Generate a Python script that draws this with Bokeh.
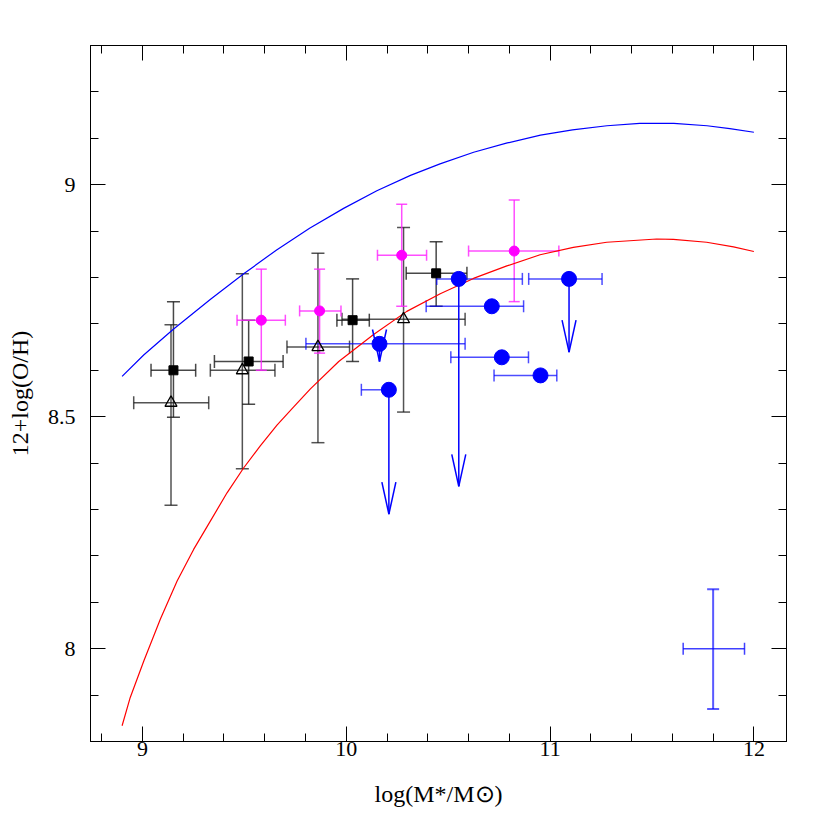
from bokeh.plotting import figure
from bokeh.models import Whisker, TeeHead, ColumnDataSource, LinearAxis, FixedTicker, Range1d
from bokeh.embed import file_html
from bokeh.resources import INLINE

# ---------------- data ----------------
x_ticks = [9, 10, 11, 12]
x_tick_labels = ["9", "10", "11", "12"]
x_minor = [8.8, 9.2, 9.4, 9.6, 9.8, 10.2, 10.4, 10.6, 10.8, 11.2, 11.4, 11.6, 11.8, 12.2]
y_ticks = [8.0, 8.5, 9.0]
y_tick_labels = ["8", "8.5", "9"]
y_minor = [7.8, 7.9, 8.1, 8.2, 8.3, 8.4, 8.6, 8.7, 8.8, 8.9, 9.1, 9.2, 9.3]

# upper (blue) relation
blue_curve_x = [8.90, 9.006, 9.15, 9.334, 9.50, 9.66, 9.82, 9.987, 10.15, 10.315, 10.46,
                10.625, 10.79, 10.953, 11.11, 11.279, 11.44, 11.607, 11.77, 11.882, 12.00]
blue_curve_y = [8.587, 8.633, 8.688, 8.753, 8.809, 8.860, 8.906, 8.949, 8.987, 9.020, 9.045,
                9.070, 9.090, 9.107, 9.118, 9.127, 9.132, 9.132, 9.127, 9.121, 9.113]

# lower (red) relation
red_curve_x = [8.90, 8.94, 9.007, 9.088, 9.17, 9.251, 9.333, 9.415, 9.497, 9.578, 9.66,
               9.742, 9.824, 9.963, 10.134, 10.297, 10.461, 10.624, 10.788, 10.951, 11.114,
               11.278, 11.523, 11.605, 11.768, 11.90, 12.00]
red_curve_y = [7.834, 7.895, 7.974, 8.064, 8.146, 8.214, 8.275, 8.336, 8.390, 8.437, 8.482,
               8.521, 8.560, 8.619, 8.677, 8.727, 8.765, 8.798, 8.825, 8.849, 8.865,
               8.876, 8.883, 8.882, 8.876, 8.866, 8.856]

# black filled squares
sq_x = [9.152, 9.521, 10.031, 10.441]
sq_y = [8.600, 8.619, 8.708, 8.809]
sq_xlo = [9.042, 9.353, 9.954, 10.294]
sq_xhi = [9.261, 9.690, 10.113, 10.592]
sq_ylo = [8.499, 8.527, 8.619, 8.738]
sq_yhi = [8.748, 8.708, 8.797, 8.877]

# open triangles
tr_x = [9.140, 9.490, 9.861, 10.281]
tr_y = [8.530, 8.600, 8.650, 8.710]
tr_xlo = [8.957, 9.333, 9.709, 9.979]
tr_xhi = [9.325, 9.650, 10.016, 10.583]
tr_ylo = [8.309, 8.388, 8.444, 8.510]
tr_yhi = [8.698, 8.808, 8.852, 8.908]

# magenta circles
mg_x = [9.583, 9.869, 10.272, 10.824]
mg_y = [8.708, 8.728, 8.848, 8.857]
mg_xlo = [9.464, 9.771, 10.153, 10.600]
mg_xhi = [9.701, 9.974, 10.394, 11.043]
mg_ylo = [8.600, 8.637, 8.738, 8.748]
mg_yhi = [8.818, 8.818, 8.958, 8.967]

# blue big circles
bl_x = [10.163, 10.209, 10.552, 10.714, 10.763, 10.953, 11.093]
bl_y = [8.657, 8.558, 8.797, 8.738, 8.628, 8.589, 8.797]
bl_xlo = [9.802, 10.074, 10.444, 10.392, 10.513, 10.725, 10.895]
bl_xhi = [10.583, 10.209, 10.864, 10.870, 10.894, 11.033, 11.255]

# upper limits (arrows) on blue points
lim_x = [10.163, 10.209, 10.552, 11.093]
lim_y = [8.657, 8.558, 8.797, 8.797]
lim_tip = [8.619, 8.290, 8.350, 8.639]

# typical error bar
te_x = [11.80]
te_y = [8.00]
te_xlo = [11.653]
te_xhi = [11.954]
te_ylo = [7.870]
te_yhi = [8.128]

# ---------------- figure ----------------
X_RANGE = (8.745, 12.16)
Y_RANGE = (7.8, 9.3)
FW, FH = 696, 696
FONT = "Liberation Serif"

p = figure(frame_width=FW, frame_height=FH,
           x_range=Range1d(*X_RANGE), y_range=Range1d(*Y_RANGE),
           output_backend="svg", toolbar_location=None,
           min_border_left=90, min_border_top=45, min_border_right=30, min_border_bottom=76)
p.grid.visible = False
p.outline_line_color = "black"
p.outline_line_width = 1
p.background_fill_color = "white"
p.border_fill_color = "white"


def style_axis(ax, ticks, minor, labels, show_labels):
    ax.ticker = FixedTicker(ticks=ticks, minor_ticks=minor)
    ax.major_tick_in = 15
    ax.major_tick_out = 0
    ax.minor_tick_in = 8
    ax.minor_tick_out = 0
    ax.major_tick_line_color = "black"
    ax.minor_tick_line_color = "black"
    ax.axis_line_color = "black"
    ax.major_label_text_font = FONT
    ax.major_label_text_font_size = "22px"
    ax.major_label_text_color = "black"
    if show_labels:
        ax.major_label_overrides = {t: l for t, l in zip(ticks, labels)}
    else:
        ax.major_label_overrides = {t: "" for t in ticks}


xa = p.xaxis[0]
ya = p.yaxis[0]
style_axis(xa, x_ticks, x_minor, x_tick_labels, True)
style_axis(ya, y_ticks, y_minor, y_tick_labels, True)
xa.major_label_standoff = 0
ya.major_label_standoff = 15
xa.axis_label = "log(M*/M\u2299)"
ya.axis_label = "12+log(O/H)"
for ax, so in ((xa, 22), (ya, 12)):
    ax.axis_label_text_font = FONT
    ax.axis_label_text_font_size = "24px"
    ax.axis_label_text_font_style = "normal"
    ax.axis_label_text_color = "black"
    ax.axis_label_standoff = so

xr = LinearAxis()
style_axis(xr, x_ticks, x_minor, x_tick_labels, False)
xr.major_label_standoff = 0
p.add_layout(xr, "above")
yr = LinearAxis()
style_axis(yr, y_ticks, y_minor, y_tick_labels, False)
yr.major_label_standoff = 0
p.add_layout(yr, "right")


def whiskers(xs, ys, lo, hi, dim, color, alpha, width, cap):
    if dim == "width":
        src = ColumnDataSource(dict(base=ys, lo=lo, hi=hi))
    else:
        src = ColumnDataSource(dict(base=xs, lo=lo, hi=hi))
    head = dict(size=cap, line_color=color, line_alpha=alpha, line_width=width)
    w = Whisker(source=src, base="base", lower="lo", upper="hi", dimension=dim,
                line_color=color, line_alpha=alpha, line_width=width,
                upper_head=TeeHead(**head), lower_head=TeeHead(**head))
    p.add_layout(w)


BLACK = "#1a1a1a"
MAG = "#ff22ff"
BLUE = "#0000ff"

# error bars
whiskers(tr_x, tr_y, tr_xlo, tr_xhi, "width", BLACK, 0.75, 1.5, 13)
whiskers(tr_x, tr_y, tr_ylo, tr_yhi, "height", BLACK, 0.75, 1.5, 13)
whiskers(sq_x, sq_y, sq_xlo, sq_xhi, "width", BLACK, 0.8, 1.5, 13)
whiskers(sq_x, sq_y, sq_ylo, sq_yhi, "height", BLACK, 0.8, 1.5, 13)
whiskers(mg_x, mg_y, mg_xlo, mg_xhi, "width", MAG, 0.8, 1.5, 11)
whiskers(mg_x, mg_y, mg_ylo, mg_yhi, "height", MAG, 0.8, 1.5, 11)
whiskers(bl_x, bl_y, bl_xlo, bl_xhi, "width", BLUE, 0.7, 1.5, 12)
whiskers(te_x, te_y, te_xlo, te_xhi, "width", BLUE, 0.75, 1.5, 12)
whiskers(te_x, te_y, te_ylo, te_yhi, "height", BLUE, 0.65, 2.0, 12)

# relations
p.line(blue_curve_x, blue_curve_y, line_color=BLUE, line_width=1.2)
p.line(red_curve_x, red_curve_y, line_color="#ff0000", line_width=1.2)

# upper-limit arrows (open V heads of fixed pixel size)
HEAD_HALF_W_PX = 7
HEAD_LEN_PX = 32
dx = HEAD_HALF_W_PX * (X_RANGE[1] - X_RANGE[0]) / FW
dy = HEAD_LEN_PX * (Y_RANGE[1] - Y_RANGE[0]) / FH
p.segment(x0=lim_x, y0=lim_y, x1=lim_x, y1=lim_tip, line_color=BLUE, line_width=1.5)
p.segment(x0=[x - dx for x in lim_x], y0=[t + dy for t in lim_tip], x1=lim_x, y1=lim_tip,
          line_color=BLUE, line_width=1.5)
p.segment(x0=[x + dx for x in lim_x], y0=[t + dy for t in lim_tip], x1=lim_x, y1=lim_tip,
          line_color=BLUE, line_width=1.5)

# markers
p.scatter(tr_x, tr_y, marker="triangle", size=12, fill_alpha=0, line_color="black", line_width=1.3)
p.scatter(sq_x, sq_y, marker="square", size=9, fill_color="black", line_color="black")
p.scatter(mg_x, mg_y, marker="circle", size=10, fill_color="#ff00ff", line_color="#ff00ff")
p.scatter(bl_x, bl_y, marker="circle", size=15, fill_color=BLUE, line_color=BLUE)

open("out.html", "w").write(file_html(p, INLINE))
